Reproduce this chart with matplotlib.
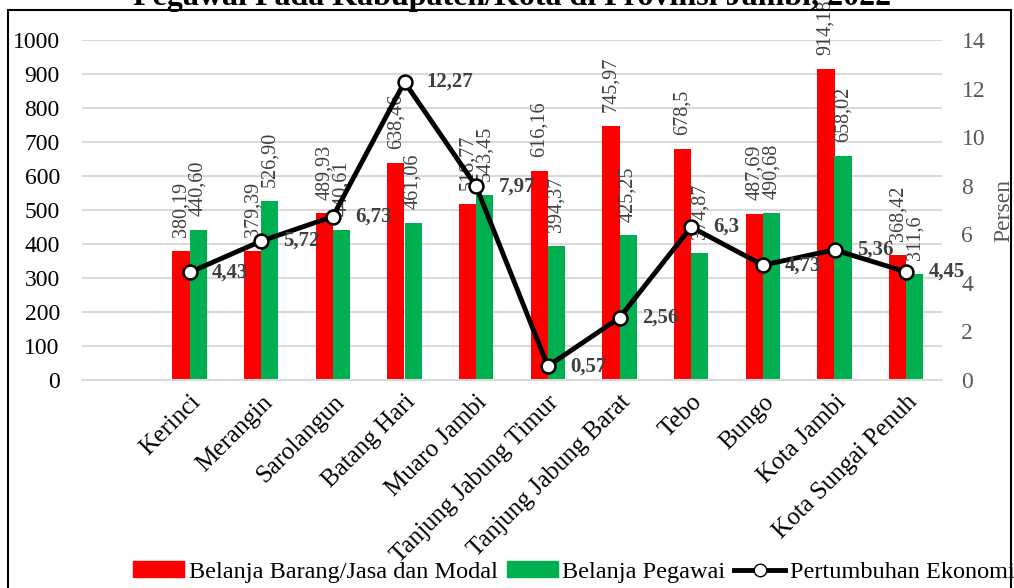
import matplotlib
matplotlib.use("Agg")
import matplotlib.pyplot as plt
import matplotlib.patches as mpatches
from matplotlib.lines import Line2D

plt.rcParams['font.family'] = ['Liberation Serif', 'DejaVu Serif']

categories = ["Kerinci", "Merangin", "Sarolangun", "Batang Hari", "Muaro Jambi",
              "Tanjung Jabung Timur", "Tanjung Jabung Barat", "Tebo", "Bungo",
              "Kota Jambi", "Kota Sungai Penuh"]
barang_modal = [380.19, 379.39, 489.93, 638.46, 518.77, 616.16, 745.97, 678.5, 487.69, 914.18, 368.42]
barang_labels = ["380,19", "379,39", "489,93", "638,46", "518,77", "616,16", "745,97", "678,5", "487,69", "914,18", "368,42"]
pegawai = [440.60, 526.90, 440.61, 461.06, 543.45, 394.37, 425.25, 374.87, 490.68, 658.02, 311.6]
pegawai_labels = ["440,60", "526,90", "440,61", "461,06", "543,45", "394,37", "425,25", "374,87", "490,68", "658,02", "311,6"]
pertumbuhan = [4.43, 5.72, 6.73, 12.27, 7.97, 0.57, 2.56, 6.3, 4.73, 5.36, 4.45]
pertumbuhan_labels = ["4,43", "5,72", "6,73", "12,27", "7,97", "0,57", "2,56", "6,3", "4,73", "5,36", "4,45"]
left_ticks = [0, 100, 200, 300, 400, 500, 600, 700, 800, 900, 1000]
right_ticks = [0, 2, 4, 6, 8, 10, 12, 14]

title = "Pegawai Pada Kabupaten/Kota di Provinsi Jambi, 2022"

RED = "#ff0000"
GREEN = "#00b050"
GRID = "#d9d9d9"
LBL = "#404040"

fig = plt.figure(figsize=(10.14, 5.88), dpi=100)
ax = fig.add_axes([82/1014, 1-380/588, 860/1014, 340/588])
ax2 = ax.twinx()

x = list(range(len(categories)))
w = 0.24
xr = [i - w/2 for i in x]
xg = [i + w/2 for i in x]
ax.bar(xr, barang_modal, width=w, color=RED, zorder=2)
ax.bar(xg, pegawai, width=w, color=GREEN, zorder=2)

for xi, v, s in zip(xr, barang_modal, barang_labels):
    ax.annotate(s, (xi, v), xytext=(0, 10), textcoords="offset points",
                rotation=90, ha="center", va="bottom", fontsize=14.5, color=LBL,
                annotation_clip=False, zorder=3)
for xi, v, s in zip(xg, pegawai, pegawai_labels):
    ax.annotate(s, (xi, v), xytext=(0, 10), textcoords="offset points",
                rotation=90, ha="center", va="bottom", fontsize=14.5, color=LBL,
                annotation_clip=False, zorder=3)

ax.set_xlim(-1.5, 10.5)
ax.set_ylim(0, 1000)
ax.set_yticks(left_ticks)
ax.set_yticklabels([str(t) for t in left_ticks], fontsize=17, color="black")
ax.yaxis.grid(True, color=GRID, linewidth=1.5, zorder=0)
ax.set_axisbelow(True)
ax.tick_params(axis="y", length=0, pad=16)
ax.set_xticks(x)
ax.set_xticklabels(categories, rotation=45, ha="right", rotation_mode="anchor", fontsize=18)
ax.tick_params(axis="x", length=0, pad=8)
for sp in ["top", "left", "right"]:
    ax.spines[sp].set_visible(False)
ax.spines["bottom"].set_color(GRID)
ax.spines["bottom"].set_linewidth(1.5)

ax2.plot(x, pertumbuhan, color="black", linewidth=3.5, marker="o", markersize=10,
         markerfacecolor="white", markeredgecolor="black", markeredgewidth=1.8, zorder=5)
for xi, v, s in zip(x, pertumbuhan, pertumbuhan_labels):
    ax2.annotate(s, (xi, v), xytext=(16, 0), textcoords="offset points",
                 ha="left", va="center", fontsize=15, fontweight="bold", color=LBL,
                 annotation_clip=False, zorder=6)
ax2.set_ylim(0, 14)
ax2.set_yticks(right_ticks)
ax2.set_yticklabels([str(t) for t in right_ticks], fontsize=17, color="#595959")
ax2.tick_params(axis="y", length=0, pad=14)
ax2.set_ylabel("Persen", fontsize=17, color="#595959", labelpad=6)
for sp in ["top", "left", "right", "bottom"]:
    ax2.spines[sp].set_visible(False)

fig.text(512/1014, 1-5/588, title, ha="center", va="baseline",
         fontsize=23, fontweight="bold")

frame = mpatches.Rectangle((8/1014, -0.1), (1011-8)/1014, 0.1 + 1 - 10.5/588,
                           transform=fig.transFigure, fill=False,
                           edgecolor="black", linewidth=1.5, clip_on=False)
fig.patches.append(frame)

handles = [mpatches.Patch(color=RED, label="Belanja Barang/Jasa dan Modal"),
           mpatches.Patch(color=GREEN, label="Belanja Pegawai"),
           Line2D([0], [0], color="black", linewidth=3.5, marker="o", markersize=9,
                  markerfacecolor="white", markeredgecolor="black",
                  label="Pertumbuhan Ekonomi")]
fig.legend(handles=handles, loc="center", bbox_to_anchor=(574/1014, 1-572/588),
           ncol=3, frameon=False, fontsize=17.5, handlelength=2.1, handleheight=0.6,
           handletextpad=0.2, columnspacing=0.35, borderpad=0, borderaxespad=0)

fig.savefig("out.png", dpi=100)
